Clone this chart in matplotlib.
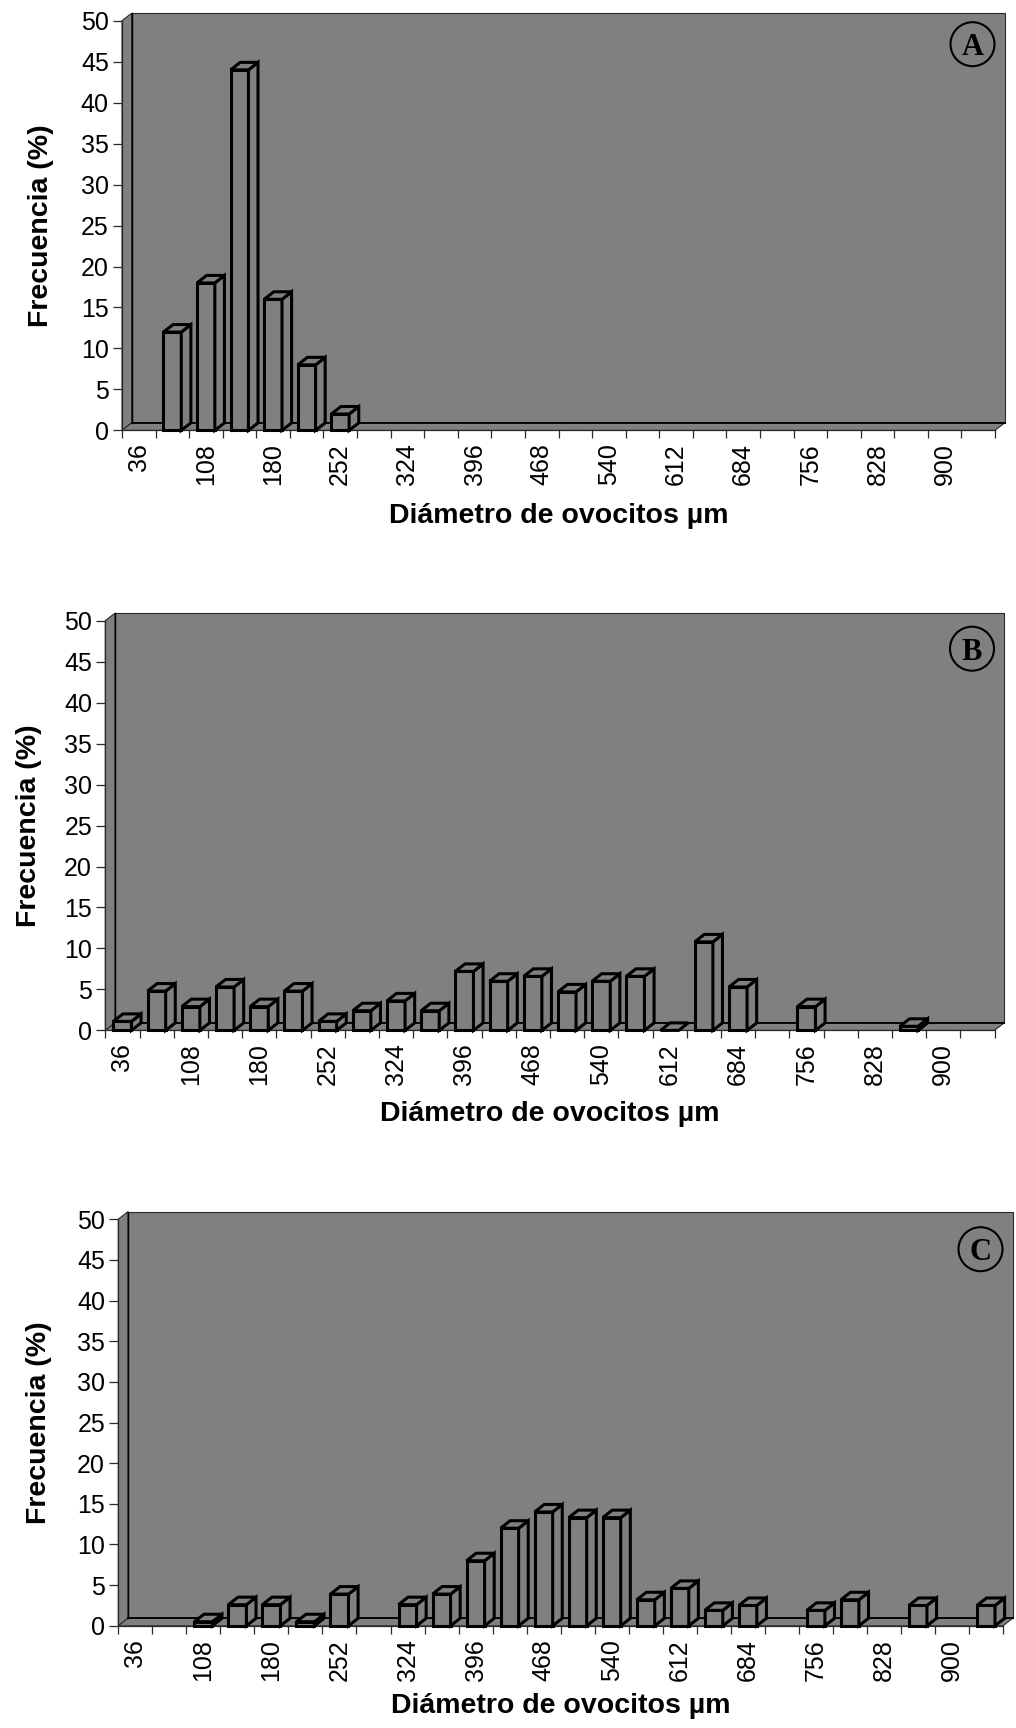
import numpy as np
import matplotlib
matplotlib.use("Agg")
import matplotlib.pyplot as plt
from matplotlib.patches import Polygon, Ellipse
from matplotlib.ticker import NullFormatter

# ---------------- data ----------------
categories = [36, 72, 108, 144, 180, 216, 252, 288, 324, 360, 396, 432, 468,
              504, 540, 576, 612, 648, 684, 720, 756, 792, 828, 864, 900, 936]
tick_labels = ["36", "108", "180", "252", "324", "396", "468", "540", "612",
               "684", "756", "828", "900"]
y_ticks = [0, 5, 10, 15, 20, 25, 30, 35, 40, 45, 50]
nan = np.nan
freq_A = [nan, 12, 18, 44, 16, 8, 2, nan, nan, nan, nan, nan, nan,
          nan, nan, nan, nan, nan, nan, nan, nan, nan, nan, nan, nan, nan]
freq_B = [1.1, 4.8, 2.9, 5.3, 2.9, 4.8, 1.1, 2.4, 3.6, 2.4, 7.2, 6.0, 6.6,
          4.7, 6.0, 6.6, 0.0, 10.8, 5.3, nan, 2.9, nan, nan, 0.5, nan, nan]
freq_C = [nan, nan, 0.5, 2.6, 2.6, 0.5, 3.9, nan, 2.6, 3.9, 8.0, 12.0, 14.0,
          13.3, 13.3, 3.2, 4.6, 1.9, 2.5, nan, 1.9, 3.2, nan, 2.5, nan, 2.5]
panel_letters = ["A", "B", "C"]
x_title = "Diámetro de ovocitos µm"
y_title = "Frecuencia (%)"

# ---------------- style ----------------
plt.rcParams['font.family'] = ['Liberation Sans', 'DejaVu Sans']
W, H = 1016, 1728
GRAY = '#808080'
EDGE = '#2a2a2a'
DEPTH_X, DEPTH_Y = 9.6, 7.5   # pixel depth of the pseudo-3D floor / bars
TICK_FS = 18

fig = plt.figure(figsize=(W / 100, H / 100), dpi=100, facecolor='white')

# left, right, y(0), y(50), ylabel right edge, xlabel top, circle offset below top
layout = [
    (122.0, 995.0, 430.4, 20.7, 54.5, 503.0, 23.5),
    (105.3, 994.5, 1030.4, 620.7, 41.7, 1101.0, 28.0),
    (118.3, 1003.0, 1625.8, 1219.2, 52.0, 1693.0, 30.0),
]


def draw_panel(vals, letter, left, right, y0, y50, ylab_right, xlab_top, circ_dy):
    n = len(categories)
    ax = fig.add_axes([left / W, 1 - y0 / H, (right - left) / W, (y0 - y50) / H])
    ax.set_xlim(0, n)
    ax.set_ylim(0, 50)
    ax.patch.set_visible(False)
    px_x = n / (right - left)
    px_y = 50 / (y0 - y50)
    ddx, ddy = DEPTH_X * px_x, DEPTH_Y * px_y

    # side wall, back wall, floor
    ax.add_patch(Polygon([(0, 0), (ddx, ddy), (ddx, 50 + ddy), (0, 50)], closed=True,
                         fc=GRAY, ec=EDGE, lw=0.8, clip_on=False, zorder=0.5))
    ax.add_patch(Polygon([(ddx, ddy), (n + ddx, ddy), (n + ddx, 50 + ddy), (ddx, 50 + ddy)],
                         closed=True, fc=GRAY, ec=EDGE, lw=0.8, clip_on=False, zorder=0.5))
    ax.add_patch(Polygon([(0, 0), (n, 0), (n + ddx, ddy), (ddx, ddy)], closed=True,
                         fc=GRAY, ec=EDGE, lw=0.8, clip_on=False, zorder=0.6))
    ax.plot([ddx, n + ddx], [ddy, ddy], color='black', lw=1.3, clip_on=False, zorder=0.7)
    ax.plot([ddx, ddx], [ddy, 50 + ddy], color='black', lw=1.0, clip_on=False, zorder=0.7)

    # 3D bars
    bw = 0.53
    for i, v in enumerate(vals):
        if np.isnan(v):
            continue
        xc = i + 0.5
        x0, x1 = xc - bw / 2, xc + bw / 2
        kw = dict(closed=True, fc=GRAY, ec='black', lw=2.2, joinstyle='miter',
                  clip_on=False, zorder=3)
        if v > 0:
            ax.add_patch(Polygon([(x0, 0), (x1, 0), (x1, v), (x0, v)], **kw))
            ax.add_patch(Polygon([(x1, 0), (x1 + ddx, ddy), (x1 + ddx, v + ddy), (x1, v)], **kw))
        ax.add_patch(Polygon([(x0, v), (x1, v), (x1 + ddx, v + ddy), (x0 + ddx, v + ddy)], **kw))

    # axes / ticks
    for s in ['top', 'right']:
        ax.spines[s].set_visible(False)
    for s in ['left', 'bottom']:
        ax.spines[s].set_color(EDGE)
        ax.spines[s].set_linewidth(0.9)
    ax.set_xticks(np.arange(n + 1))
    ax.xaxis.set_major_formatter(NullFormatter())
    pos = [categories.index(int(t)) + 0.5 for t in tick_labels]
    ax.set_xticks(pos, labels=tick_labels, minor=True)
    ax.tick_params(axis='x', which='major', direction='out', length=5.8, width=0.9, color=EDGE)
    ax.tick_params(axis='x', which='minor', length=0, pad=9.5, labelsize=TICK_FS,
                   labelrotation=90)
    ax.set_yticks(y_ticks)
    ax.tick_params(axis='y', direction='out', length=6.3, width=0.9, pad=3.2,
                   labelsize=TICK_FS, color=EDGE)

    ax.set_xlabel(x_title, fontsize=20.5, fontweight='bold')
    ax.xaxis.set_label_coords(0.5, -(xlab_top - y0) / (y0 - y50))
    ax.set_ylabel(y_title, fontsize=20.5, fontweight='bold')
    ax.yaxis.set_label_coords((ylab_right - left) / (right - left), 0.5)

    # circled panel letter
    cx = n - 22.5 * px_x
    cy = 50 - circ_dy * px_y
    ax.add_patch(Ellipse((cx, cy), 44 * px_x, 44 * px_y, fill=False, ec='black',
                         lw=1.5, clip_on=False, zorder=4))
    ax.text(cx, cy, letter, ha='center', va='center_baseline', fontsize=22,
            fontweight='bold', family=['Liberation Serif', 'DejaVu Serif'], zorder=5)
    return ax


for vals, letter, geo in zip([freq_A, freq_B, freq_C], panel_letters, layout):
    draw_panel(vals, letter, *geo)

fig.savefig('out.png', dpi=100, facecolor='white')
